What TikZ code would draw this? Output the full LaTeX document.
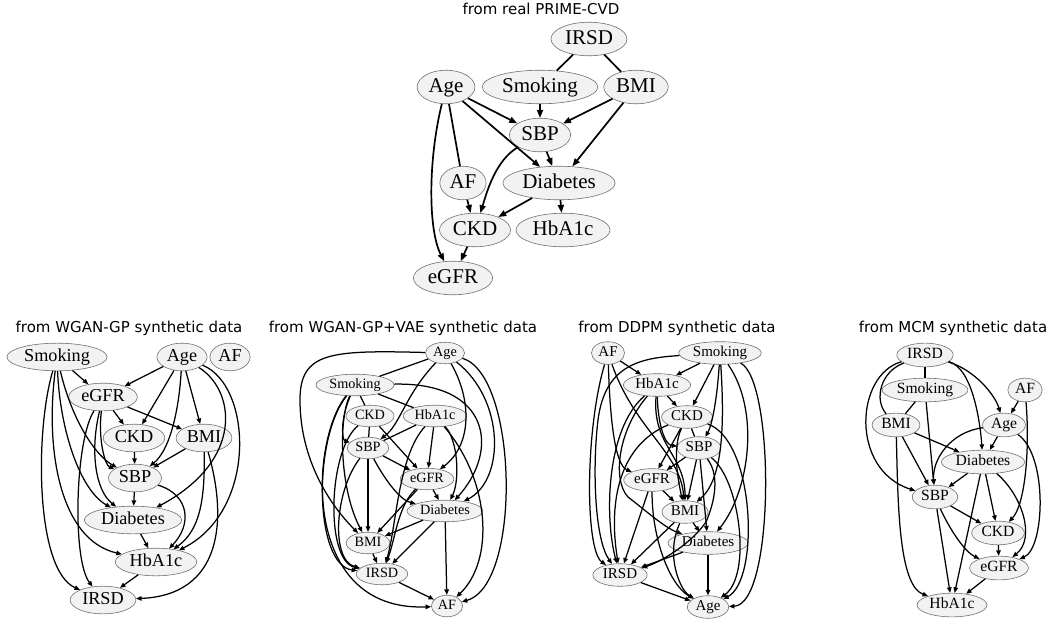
\documentclass[tikz,border=0pt]{standalone}
\usepackage{fontspec}
\setmainfont{Liberation Serif}
\newfontfamily\ttlfont{DejaVu Sans}
\usetikzlibrary{shapes.geometric,arrows.meta}
\definecolor{ndfill}{HTML}{F2F2F2}
\definecolor{ndline}{HTML}{707070}
\begin{document}
\begin{tikzpicture}[x=1pt,y=-1pt,
  nd/.style={ellipse, draw=ndline, fill=ndfill, line width=0.6pt},
  tn/.style={nd, font=\fontsize{21}{21}\selectfont, inner xsep=2.94pt, inner ysep=2.2pt, text height=14.7pt, text depth=4.62pt},
  wn/.style={nd, font=\fontsize{18.2}{18.2}\selectfont, inner xsep=2.55pt, inner ysep=1.4pt, text height=12.74pt, text depth=4pt},
  vn/.style={nd, font=\fontsize{14.2}{14.2}\selectfont, inner xsep=1.99pt, inner ysep=1.1pt, text height=9.94pt, text depth=3.12pt},
  dn/.style={nd, font=\fontsize{15}{15}\selectfont, inner xsep=2.1pt, inner ysep=1.1pt, text height=10.5pt, text depth=3.3pt},
  mn/.style={nd, font=\fontsize{15.6}{15.6}\selectfont, inner xsep=2.18pt, inner ysep=1.2pt, text height=10.92pt, text depth=3.43pt},
  ttl/.style={font=\ttlfont\fontsize{15}{15}\selectfont, inner sep=0pt},
  ta/.style={draw, line width=1.7pt, -{Triangle[length=8pt,width=6pt]}},
  tu/.style={draw, line width=1.7pt},
  ba/.style={draw, line width=1.25pt, -{Triangle[length=5.5pt,width=4.5pt]}},
  bu/.style={draw, line width=1.25pt}]
\useasboundingbox (0,0) rectangle (1051,621);

% titles
\node[ttl] (title0) at (541,9) {from real PRIME-CVD};
\node[ttl] (title1) at (129,328) {from WGAN-GP synthetic data};
\node[ttl] (title2) at (403,328) {from WGAN-GP+VAE synthetic data};
\node[ttl] (title3) at (677,328) {from DDPM synthetic data};
\node[ttl] (title4) at (953,328) {from MCM synthetic data};

% ---------------- real PRIME-CVD
\node[tn] (tIRSD) at (589,39) {IRSD};
\node[tn] (tAge) at (446,87) {Age};
\node[tn] (tSmk) at (540,87) {Smoking};
\node[tn] (tBMI) at (636,87) {BMI};
\node[tn] (tSBP) at (540,135) {SBP};
\node[tn] (tAF) at (463,183) {AF};
\node[tn] (tDia) at (559,183) {Diabetes};
\node[tn] (tCKD) at (475,230) {CKD};
\node[tn] (tHb) at (563,230) {HbA1c};
\node[tn] (tGFR) at (453,278) {eGFR};

\draw[tu] (tIRSD) -- (tSmk);
\draw[tu] (tIRSD) -- (tBMI);
\draw[tu] (tAge) -- (tAF);
\draw[ta] (tAge) -- (tSBP);
\draw[ta] (tSmk) -- (tSBP);
\draw[ta] (tBMI) -- (tSBP);
\draw[ta] (tAge) -- (tDia);
\draw[ta] (tSBP) -- (tDia);
\draw[ta] (tBMI) -- (tDia);
\draw[ta] (tAge) .. controls (428,160) and (428,230) .. (tGFR);
\draw[ta] (tSBP) .. controls (495,160) and (486,195) .. (tCKD);
\draw[ta] (tAF) -- (tCKD);
\draw[ta] (tDia) -- (tCKD);
\draw[ta] (tDia) -- (tHb);
\draw[ta] (tCKD) -- (tGFR);

% ---------------- WGAN-GP
\node[wn] (wSmk) at (57,357) {Smoking};
\node[wn] (wAge) at (182,357) {Age};
\node[wn] (wAF) at (230,357) {AF};
\node[wn] (wGFR) at (103,397) {eGFR};
\node[wn] (wCKD) at (134,438) {CKD};
\node[wn] (wBMI) at (204,438) {BMI};
\node[wn] (wSBP) at (135,478) {SBP};
\node[wn] (wDia) at (133,520) {Diabetes};
\node[wn] (wHb) at (156,562) {HbA1c};
\node[wn] (wIRSD) at (103,600) {IRSD};

\draw[ba] (wSmk) -- (wGFR);
\draw[ba] (wAge) -- (wGFR);
\draw[ba] (wAge) -- (wCKD);
\draw[ba] (wAge) -- (wBMI);
\draw[ba] (wAge) .. controls (179,410) and (170,450) .. (wSBP);
\draw[ba] (wAge) .. controls (235,390) and (245,460) .. (wDia);
\draw[ba] (wAge) .. controls (252,385) and (258,510) .. (wHb);
\draw[ba] (wGFR) -- (wCKD);
\draw[ba] (wGFR) -- (wBMI);
\draw[ba] (wGFR) .. controls (98,440) and (105,465) .. (wSBP);
\draw[ba] (wGFR) .. controls (90,450) and (95,490) .. (wDia);
\draw[ba] (wGFR) .. controls (75,440) and (72,560) .. (wIRSD);
\draw[ba] (wSmk) .. controls (35,430) and (35,570) .. (wIRSD);
\draw[ba] (wSmk) .. controls (45,450) and (60,540) .. (wHb);
\draw[ba] (wSmk) .. controls (60,430) and (80,490) .. (wDia);
\draw[ba] (wSmk) .. controls (72,420) and (95,455) .. (wSBP);
\draw[ba] (wCKD) -- (wSBP);
\draw[ba] (wBMI) -- (wSBP);
\draw[ba] (wBMI) .. controls (205,500) and (200,530) .. (wHb);
\draw[ba] (wBMI) .. controls (228,520) and (222,595) .. (wIRSD);
\draw[ba] (wSBP) .. controls (190,495) and (192,525) .. (wHb);
\draw[ba] (wSBP) -- (wDia);
\draw[ba] (wDia) -- (wHb);
\draw[ba] (wHb) -- (wIRSD);

% ---------------- WGAN-GP+VAE
\node[vn] (vAge) at (445,353) {Age};
\node[vn] (vSmk) at (355,385) {Smoking};
\node[vn] (vCKD) at (370,416) {CKD};
\node[vn] (vHb) at (435,416) {HbA1c};
\node[vn] (vSBP) at (368,448) {SBP};
\node[vn] (vGFR) at (427,479) {eGFR};
\node[vn] (vDia) at (445,511) {Diabetes};
\node[vn] (vBMI) at (368,543) {BMI};
\node[vn] (vIRSD) at (382,574) {IRSD};
\node[vn] (vAF) at (447,606) {AF};

\draw[bu] (vAge) -- (vSmk);
\draw[ba] (vAge) .. controls (330,350) and (300,352) .. (300,400) .. controls (300,460) and (330,505) .. (vBMI);
\draw[ba] (vSmk) .. controls (310,440) and (300,612) .. (vAF);
\draw[ba] (vAge) .. controls (405,395) and (400,425) .. (vSBP);
\draw[ba] (vAge) .. controls (472,400) and (472,445) .. (vGFR);
\draw[ba] (vAge) .. controls (505,400) and (505,480) .. (vDia);
\draw[ba] (vAge) .. controls (518,375) and (522,585) .. (vAF);
\draw[bu] (vSmk) -- (vHb);
\draw[bu] (vSmk) -- (vCKD);
\draw[ba] (vSmk) .. controls (490,382) and (500,450) .. (vDia);
\draw[ba] (vSmk) .. controls (338,420) and (340,490) .. (vBMI);
\draw[ba] (vSmk) .. controls (312,440) and (315,565) .. (vIRSD);
\draw[ba] (vSmk) .. controls (340,420) and (342,440) .. (vSBP);
\draw[bu] (vCKD) -- (vSBP);
\draw[ba] (vCKD) -- (vGFR);
\draw[ba] (vCKD) .. controls (328,450) and (325,560) .. (vIRSD);
\draw[bu] (vHb) -- (vSBP);
\draw[ba] (vHb) -- (vGFR);
\draw[ba] (vHb) .. controls (458,440) and (460,480) .. (vDia);
\draw[ba] (vHb) .. controls (490,480) and (495,560) .. (vAF);
\draw[ba] (vHb) .. controls (398,455) and (396,530) .. (vIRSD);
\draw[ba] (vSBP) -- (vGFR);
\draw[ba] (vSBP) -- (vBMI);
\draw[ba] (vSBP) .. controls (385,480) and (400,500) .. (vDia);
\draw[ba] (vSBP) .. controls (335,490) and (330,560) .. (vIRSD);
\draw[ba] (vGFR) -- (vBMI);
\draw[ba] (vGFR) -- (vDia);
\draw[ba] (vGFR) .. controls (398,505) and (395,540) .. (vIRSD);
\draw[ba] (vDia) -- (vBMI);
\draw[ba] (vDia) -- (vIRSD);
\draw[ba] (vDia) -- (vAF);
\draw[ba] (vBMI) -- (vIRSD);
\draw[ba] (vIRSD) -- (vAF);

% ---------------- DDPM
\node[dn] (dAF) at (608,353) {AF};
\node[dn] (dSmk) at (720,353) {Smoking};
\node[dn] (dHb) at (657,385) {HbA1c};
\node[dn] (dCKD) at (687,417) {CKD};
\node[dn] (dSBP) at (699,448) {SBP};
\node[dn] (dGFR) at (652,480) {eGFR};
\node[dn] (dBMI) at (685,512) {BMI};
\node[dn] (dDia) at (708,543) {Diabetes};
\node[dn] (dIRSD) at (620,575) {IRSD};
\node[dn] (dAge) at (708,607) {Age};

\draw[ba] (dAF) -- (dHb);
\draw[ba] (dAF) .. controls (610,420) and (615,465) .. (dGFR);
\draw[ba] (dAF) .. controls (635,430) and (680,452) .. (dBMI);
\draw[ba] (dAF) .. controls (585,430) and (585,550) .. (dIRSD);
\draw[ba] (dSmk) -- (dHb);
\draw[ba] (dSmk) .. controls (640,358) and (605,365) .. (598,420) .. controls (592,470) and (595,540) .. (dIRSD);
\draw[ba] (dSmk) -- (dCKD);
\draw[ba] (dSmk) .. controls (717,400) and (712,425) .. (dSBP);
\draw[ba] (dSmk) .. controls (725,430) and (722,480) .. (dBMI);
\draw[ba] (dSmk) .. controls (760,410) and (750,490) .. (dDia);
\draw[ba] (dSmk) .. controls (775,380) and (775,605) .. (dAge);
\draw[ba] (dHb) -- (dCKD);
\draw[ba] (dHb) .. controls (658,425) and (665,445) .. (dSBP);
\draw[ba] (dHb) .. controls (652,445) and (685,455) .. (dBMI);
\draw[ba] (dHb) .. controls (605,430) and (605,520) .. (dIRSD);
\draw[ba] (dHb) .. controls (618,430) and (612,480) .. (628,497) .. controls (645,510) and (665,528) .. (dDia);
\draw[bu] (dCKD) -- (dSBP);
\draw[ba] (dCKD) -- (dGFR);
\draw[ba] (dCKD) .. controls (620,445) and (608,500) .. (dIRSD);
\draw[ba] (dCKD) .. controls (672,448) and (678,480) .. (dBMI);
\draw[ba] (dCKD) .. controls (755,440) and (760,580) .. (dAge);
\draw[ba] (dSBP) -- (dGFR);
\draw[ba] (dSBP) -- (dBMI);
\draw[ba] (dSBP) -- (dDia);
\draw[ba] (dSBP) .. controls (740,480) and (752,575) .. (dAge);
\draw[ba] (dSBP) .. controls (722,478) and (712,508) .. (706,522) .. controls (690,545) and (660,562) .. (dIRSD);
\draw[ba] (dGFR) -- (dBMI);
\draw[ba] (dGFR) -- (dIRSD);
\draw[ba] (dGFR) .. controls (652,540) and (670,585) .. (dAge);
\draw[ba] (dBMI) -- (dDia);
\draw[ba] (dBMI) -- (dIRSD);
\draw[ba] (dBMI) .. controls (665,555) and (680,590) .. (dAge);
\draw[ba] (dDia) -- (dIRSD);
\draw[ba] (dDia) -- (dAge);
\draw[ba] (dIRSD) -- (dAge);

% ---------------- MCM
\node[mn] (mIRSD) at (925,355) {IRSD};
\node[mn] (mSmk) at (925,390) {Smoking};
\node[mn] (mAF) at (1025,390) {AF};
\node[mn] (mBMI) at (896,425) {BMI};
\node[mn] (mAge) at (1004,425) {Age};
\node[mn] (mDia) at (983,462) {Diabetes};
\node[mn] (mSBP) at (935,497) {SBP};
\node[mn] (mCKD) at (998,533) {CKD};
\node[mn] (mGFR) at (999,568) {eGFR};
\node[mn] (mHb) at (952,605) {HbA1c};

\draw[bu] (mIRSD) -- (mSmk);
\draw[ba] (mIRSD) .. controls (975,370) and (995,395) .. (mAge);
\draw[ba] (mIRSD) .. controls (972,368) and (980,420) .. (mDia);
\draw[bu] (mIRSD) .. controls (880,372) and (874,400) .. (mBMI);
\draw[ba] (mIRSD) .. controls (855,375) and (850,470) .. (mSBP);
\draw[bu] (mSmk) -- (mBMI);
\draw[ba] (mSmk) -- (mSBP);
\draw[ba] (mAF) -- (mAge);
\draw[ba] (mAF) .. controls (1030,450) and (1025,505) .. (mCKD);
\draw[ba] (mBMI) -- (mDia);
\draw[ba] (mBMI) -- (mSBP);
\draw[ba] (mBMI) .. controls (898,500) and (898,585) .. (mHb);
\draw[ba] (mAge) .. controls (950,432) and (932,460) .. (mSBP);
\draw[ba] (mAge) -- (mDia);
\draw[ba] (mAge) .. controls (1048,455) and (1045,548) .. (mGFR);
\draw[ba] (mDia) -- (mSBP);
\draw[ba] (mDia) -- (mCKD);
\draw[ba] (mDia) .. controls (1022,495) and (1036,538) .. (mGFR);
\draw[ba] (mDia) -- (mHb);
\draw[ba] (mSBP) -- (mCKD);
\draw[ba] (mSBP) .. controls (950,530) and (965,552) .. (mGFR);
\draw[ba] (mSBP) -- (mHb);
\draw[ba] (mCKD) -- (mGFR);
\draw[ba] (mGFR) -- (mHb);
\end{tikzpicture}
\end{document}
